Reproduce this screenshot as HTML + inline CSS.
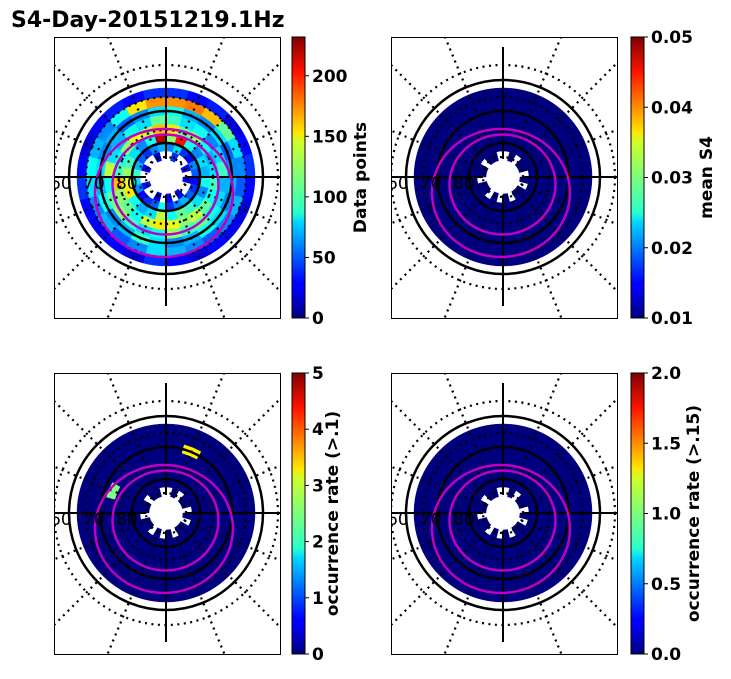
<!DOCTYPE html>
<html><head><meta charset="utf-8">
<style>
body{margin:0;background:#fff;}
svg text{font-family:"DejaVu Sans","Liberation Sans",sans-serif;}
</style></head>
<body>
<svg id="fig" width="731" height="674" viewBox="0 0 731 674" xmlns="http://www.w3.org/2000/svg">
<defs>
<linearGradient id="jet" x1="0" y1="1" x2="0" y2="0">
<stop offset="0" stop-color="#00007f"/><stop offset="0.11" stop-color="#0000ff"/><stop offset="0.125" stop-color="#0000ff"/>
<stop offset="0.34" stop-color="#00d4ff"/><stop offset="0.375" stop-color="#29ffce"/><stop offset="0.5" stop-color="#7dff7a"/>
<stop offset="0.625" stop-color="#ceff29"/><stop offset="0.66" stop-color="#ffe600"/><stop offset="0.875" stop-color="#ff1300"/>
<stop offset="1" stop-color="#7f0000"/></linearGradient>
</defs>
<text x="11" y="27" font-size="22" font-weight="bold">S4-Day-20151219.1Hz</text>
</svg>
<script>
// ring-by-sector data (8 rings inner->outer, 24 sectors clockwise from north); -1 = no data
const dataPoints = [
[-1,40,-1,-1,30,-1,20,-1,-1,25,-1,30,-1,20,-1,-1,35,-1,-1,30,-1,-1,20,-1],
[60,80,40,30,60,50,30,40,50,70,60,40,90,50,40,30,60,80,100,70,50,40,60,70],
[120,200,90,60,80,70,90,60,80,100,110,90,130,80,70,90,150,140,120,100,80,60,90,220],
[150,110,120,90,70,80,100,90,110,130,120,140,150,130,90,110,120,160,100,90,120,140,130,160],
[100,80,90,60,80,100,70,80,90,110,100,120,90,80,100,120,110,90,130,80,70,90,80,110],
[90,70,60,80,50,60,70,60,80,90,70,60,80,100,70,60,90,70,80,60,70,50,60,80],
[170,175,160,110,80,60,50,70,60,50,60,70,80,60,50,70,60,80,90,70,60,90,150,170],
[40,30,35,20,30,40,30,20,25,30,20,30,40,20,30,25,30,40,30,20,30,35,30,40]];
const meanS4 = [
[-1,0.01,-1,0.01,0.01,-1,0.01,-1,0.01,0.01,-1,0.01,-1,0.01,-1,0.01,0.01,-1,0.01,0.01,-1,0.01,0.01,-1],
[0.01,0.01,0.01,0.01,0.01,0.01,0.01,0.01,0.01,0.01,0.01,0.01,0.01,0.01,0.01,0.01,0.01,0.01,0.01,0.01,0.01,0.01,0.01,0.01],
[0.01,0.01,0.01,0.01,0.01,0.01,0.01,0.01,0.01,0.01,0.01,0.01,0.01,0.01,0.01,0.01,0.01,0.01,0.01,0.01,0.01,0.01,0.01,0.01],
[0.01,0.01,0.01,0.01,0.01,0.01,0.01,0.01,0.01,0.01,0.01,0.01,0.01,0.01,0.01,0.01,0.01,0.01,0.01,0.01,0.01,0.01,0.01,0.01],
[0.01,0.01,0.01,0.01,0.01,0.01,0.01,0.01,0.01,0.01,0.01,0.01,0.01,0.01,0.01,0.01,0.01,0.01,0.01,0.01,0.01,0.01,0.01,0.01],
[0.01,0.01,0.01,0.01,0.01,0.01,0.01,0.01,0.01,0.01,0.01,0.01,0.01,0.01,0.01,0.01,0.01,0.01,0.01,0.01,0.01,0.01,0.01,0.01],
[0.01,0.01,0.01,0.01,0.01,0.01,0.01,0.01,0.01,0.01,0.01,0.01,0.01,0.01,0.01,0.01,0.01,0.01,0.01,0.01,0.01,0.01,0.01,0.01],
[0.01,0.01,0.01,0.01,0.01,0.01,0.01,0.01,0.01,0.01,0.01,0.01,0.01,0.01,0.01,0.01,0.01,0.01,0.01,0.01,0.01,0.01,0.01,0.01]];
const occ1 = meanS4.map(r=>r.map(v=>v<0?-1:0));
occ1[5][1]=3.2; occ1[4][19]=2.5;
const occ15 = meanS4.map(r=>r.map(v=>v<0?-1:0));
const ticks1=[0,50,100,150,200], ticks2=[0.01,0.02,0.03,0.04,0.05], ticks3=[0,1,2,3,4,5], ticks4=[0.0,0.5,1.0,1.5,2.0];
const labels1=["0","50","100","150","200"], labels2=["0.01","0.02","0.03","0.04","0.05"], labels3=["0","1","2","3","4","5"], labels4=["0.0","0.5","1.0","1.5","2.0"];

const NS="http://www.w3.org/2000/svg", svg=document.getElementById('fig');
function mk(t,a,p){const e=document.createElementNS(NS,t);for(const k in a)e.setAttribute(k,a[k]);(p||svg).appendChild(e);return e;}
function jet(t){t=Math.max(0,Math.min(1,t));
 const r=Math.max(0,Math.min(1,1.5-Math.abs(4*t-3))),g=Math.max(0,Math.min(1,1.5-Math.abs(4*t-2))),b=Math.max(0,Math.min(1,1.5-Math.abs(4*t-1)));
 return `rgb(${r*255|0},${g*255|0},${b*255|0})`;}
const ringEdges=[17,26,35,44,53,62,71,80,89];
function panel(px,py,cbx,vals,vmin,vmax,ticks,labels,title,titleX,name){
 const W=226,H=281,cx=px+112,cy=py+140;
 const g=mk('g',{});
 const cid='c'+name;const cp=mk('clipPath',{id:cid},g);mk('rect',{x:px,y:py,width:W,height:H},cp);
 const inner=mk('g',{'clip-path':`url(#${cid})`},g);
 vals.forEach((row,i)=>row.forEach((v,k)=>{ if(v<0)return;
  const r0=ringEdges[i],r1=ringEdges[i+1],a0=(k*15-90)*Math.PI/180,a1=((k+1)*15-90)*Math.PI/180;
  const p=(r,a)=>`${cx+r*Math.cos(a)},${cy+r*Math.sin(a)}`;
  const c=mk('path',{d:`M${p(r0,a0)}L${p(r1,a0)}A${r1},${r1} 0 0 1 ${p(r1,a1)}L${p(r0,a1)}A${r0},${r0} 0 0 0 ${p(r0,a0)}Z`,fill:jet((v-vmin)/(vmax-vmin)),stroke:jet((v-vmin)/(vmax-vmin)),'stroke-width':0.5},inner);
  
  
 }));
 for(let a=22.5;a<360;a+=22.5){ if(a%90===0)continue; const t=a*Math.PI/180;
  mk('line',{x1:cx+20*Math.cos(t),y1:cy+20*Math.sin(t),x2:cx+160*Math.cos(t),y2:cy+160*Math.sin(t),stroke:'#000','stroke-width':2.2,'stroke-dasharray':'2 4.5'},inner);}
 [112,80,47,20].forEach(r=>mk('circle',{cx,cy,r,fill:'none',stroke:'#000','stroke-width':2.2,'stroke-dasharray':'2 4.5'},inner));
 [97,66,34].forEach(r=>mk('circle',{cx,cy,r,fill:'none',stroke:'#000','stroke-width':2.5},inner));
 mk('line',{x1:cx,y1:py+10,x2:cx,y2:cy-18,stroke:'#000','stroke-width':2},inner);
 mk('line',{x1:cx,y1:cy+18,x2:cx,y2:py+H-12,stroke:'#000','stroke-width':2},inner);
 mk('line',{x1:px,y1:cy,x2:cx-20,y2:cy,stroke:'#000','stroke-width':2},inner);
 mk('line',{x1:cx+20,y1:cy,x2:px+W,y2:cy,stroke:'#000','stroke-width':2},inner);
 mk('ellipse',{cx:cx-2,cy:cy+16,rx:69,ry:64,fill:'none',stroke:'#c000c0','stroke-width':2.5},inner);
 mk('ellipse',{cx:cx-0.5,cy:cy+7.5,rx:53,ry:50,fill:'none',stroke:'#c000c0','stroke-width':2.5},inner);
 [['60',px-4],['70',px+29],['80',px+62]].forEach(([t,x])=>{const e=mk('text',{x,y:cy+12,'font-size':17},inner);e.textContent=t;});
 mk('rect',{x:px+0.5,y:py+0.5,width:W,height:H,fill:'none',stroke:'#000','stroke-width':1},g);
 const cb=mk('rect',{x:cbx,y:py,width:13,height:H,fill:'url(#jet)',stroke:'#000','stroke-width':1},g);
 
 ticks.forEach((v,i)=>{const y=py+H-(v-vmin)/(vmax-vmin)*H;
  mk('line',{x1:cbx+13,y1:y,x2:cbx+17,y2:y,stroke:'#000','stroke-width':1},g);
  const t=mk('text',{x:cbx+20,y:y+6,'font-size':17,'font-weight':'bold'},g);t.textContent=labels[i];
  });
 const tt=mk('text',{x:titleX,y:py+H/2,'font-size':17,'font-weight':'bold','text-anchor':'middle',transform:`rotate(-90 ${titleX} ${py+H/2})`},g);
 tt.textContent=title;
}
panel(54,37,292,dataPoints,0,232,ticks1,labels1,'Data points',366,'panel-data-points');
panel(391,37,631,meanS4,0.01,0.05,ticks2,labels2,'mean S4',712,'panel-mean-s4');
panel(54,373,292,occ1,0,5,ticks3,labels3,'occurrence rate (>.1)',338,'panel-occurrence-01');
panel(391,373,631,occ15,0,2,ticks4,labels4,'occurrence rate (>.15)',699,'panel-occurrence-015');
</script>
</body></html>
